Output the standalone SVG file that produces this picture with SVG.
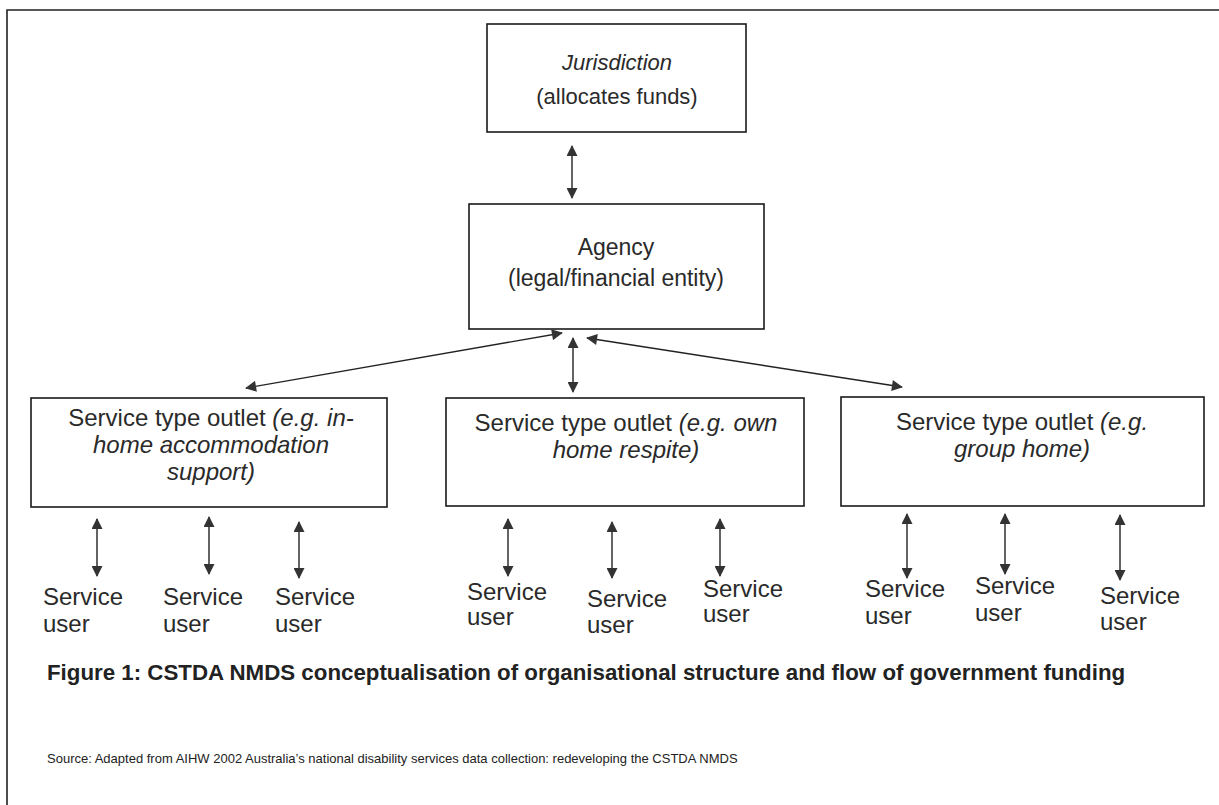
<svg xmlns="http://www.w3.org/2000/svg" width="1219" height="805" viewBox="0 0 1219 805">
  <defs>
    <marker id="ah" viewBox="0 0 12 12" refX="11" refY="6" markerWidth="12" markerHeight="11" markerUnits="userSpaceOnUse" orient="auto-start-reverse">
      <path d="M0,0 L12,6 L0,12 Z" fill="#333"/>
    </marker>
    <style>
      .box { fill: #fff; stroke: #1a1a1a; stroke-width: 1.6; }
      .t { font-family: "Liberation Sans", Arial, sans-serif; font-size: 22px; fill: #2a2a2a; }
      .a { font-size: 23px; }
      .o { font-family: "Liberation Sans", Arial, sans-serif; font-size: 24px; fill: #2a2a2a; text-anchor: middle; }
      .c { text-anchor: middle; }
      .i { font-style: italic; }
      .u { font-family: "Liberation Sans", Arial, sans-serif; font-size: 24px; fill: #2a2a2a; }
      .con { stroke: #222; stroke-width: 1.4; fill: none; marker-start: url(#ah); marker-end: url(#ah); }
      .cap { font-family: "Liberation Sans", Arial, sans-serif; font-size: 22.3px; font-weight: bold; fill: #222; }
      .src { font-family: "Liberation Sans", Arial, sans-serif; font-size: 13px; fill: #222; }
    </style>
  </defs>
  <rect width="1219" height="805" fill="#fff"/>
  <path d="M7,805 V10 H1219" fill="none" stroke="#222" stroke-width="1.6"/>

  <g id="jurisdiction">
    <rect class="box" x="487" y="24" width="259" height="108"/>
    <text class="t c i" x="617" y="70">Jurisdiction</text>
    <text class="t c" x="617" y="104">(allocates funds)</text>
  </g>

  <g id="agency">
    <rect class="box" x="469" y="204" width="295" height="125"/>
    <text class="t a c" x="616" y="255">Agency</text>
    <text class="t a c" x="616" y="286">(legal/financial entity)</text>
  </g>

  <g id="outlet1">
    <rect class="box" x="31" y="398" width="356" height="109"/>
    <text class="o" x="211" y="426">Service type outlet <tspan class="i">(e.g. in-</tspan></text>
    <text class="o i" x="211" y="453">home accommodation</text>
    <text class="o i" x="211" y="480">support)</text>
  </g>

  <g id="outlet2">
    <rect class="box" x="446" y="398" width="358" height="108"/>
    <text class="o" x="626" y="431">Service type outlet <tspan class="i">(e.g. own</tspan></text>
    <text class="o i" x="626" y="458">home respite)</text>
  </g>

  <g id="outlet3">
    <rect class="box" x="841" y="397" width="363" height="109"/>
    <text class="o" x="1022" y="430">Service type outlet <tspan class="i">(e.g.</tspan></text>
    <text class="o i" x="1022" y="457">group home)</text>
  </g>

  <g id="users-1">
    <text class="u" x="43" y="605">Service</text><text class="u" x="43" y="632">user</text>
  </g>
  <g id="users-2">
    <text class="u" x="163" y="605">Service</text><text class="u" x="163" y="632">user</text>
  </g>
  <g id="users-3">
    <text class="u" x="275" y="605">Service</text><text class="u" x="275" y="632">user</text>
  </g>
  <g id="users-4">
    <text class="u" x="467" y="600">Service</text><text class="u" x="467" y="625">user</text>
  </g>
  <g id="users-5">
    <text class="u" x="587" y="607">Service</text><text class="u" x="587" y="633">user</text>
  </g>
  <g id="users-6">
    <text class="u" x="703" y="597">Service</text><text class="u" x="703" y="622">user</text>
  </g>
  <g id="users-7">
    <text class="u" x="865" y="597">Service</text><text class="u" x="865" y="624">user</text>
  </g>
  <g id="users-8">
    <text class="u" x="975" y="594">Service</text><text class="u" x="975" y="621">user</text>
  </g>
  <g id="users-9">
    <text class="u" x="1100" y="604">Service</text><text class="u" x="1100" y="630">user</text>
  </g>

  <g id="connectors">
    <line class="con" x1="572" y1="146" x2="572" y2="198"/>
    <line class="con" x1="562" y1="333" x2="246" y2="388"/>
    <line class="con" x1="587" y1="338" x2="902" y2="387"/>
    <line class="con" x1="573" y1="338" x2="573" y2="392"/>
    <line class="con" x1="97" y1="519" x2="97" y2="576"/>
    <line class="con" x1="209" y1="517" x2="209" y2="574"/>
    <line class="con" x1="299" y1="522" x2="299" y2="578"/>
    <line class="con" x1="508" y1="519" x2="508" y2="576"/>
    <line class="con" x1="612" y1="522" x2="612" y2="578"/>
    <line class="con" x1="720" y1="519" x2="720" y2="576"/>
    <line class="con" x1="907" y1="514" x2="907" y2="578"/>
    <line class="con" x1="1005" y1="514" x2="1005" y2="574"/>
    <line class="con" x1="1120" y1="515" x2="1120" y2="580"/>
  </g>

  <text id="caption" class="cap" x="47" y="680">Figure 1: CSTDA NMDS conceptualisation of organisational structure and flow of government funding</text>
  <text id="source" class="src" x="47" y="763">Source: Adapted from AIHW 2002 Australia’s national disability services data collection: redeveloping the CSTDA NMDS</text>
</svg>
